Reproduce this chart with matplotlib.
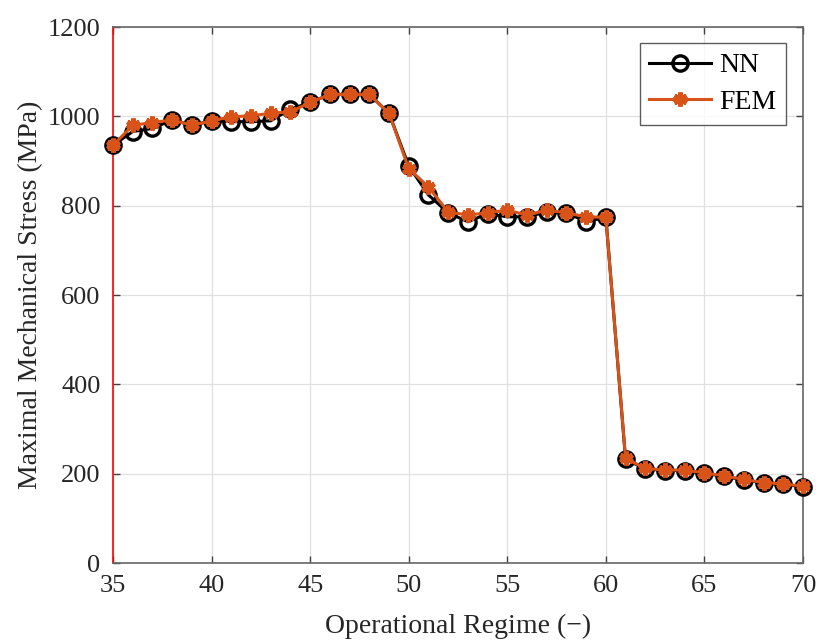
import matplotlib
matplotlib.use("Agg")
import matplotlib.pyplot as plt

regime = list(range(35, 71))
nn = [935, 966, 973, 992, 980, 990, 988, 988, 990, 1016, 1031, 1049, 1049, 1049, 1007,
      889, 824, 784, 764, 782, 775, 775, 786, 784, 764, 774,
      232, 211, 207, 207, 201, 194, 186, 179, 176, 171]
fem = [935, 980, 986, 992, 980, 990, 999, 1001, 1007, 1010, 1031, 1049, 1049, 1049, 1007,
       883, 842, 786, 779, 784, 790, 779, 790, 784, 775, 774,
       234, 212, 208, 208, 202, 195, 187, 180, 177, 172]
xticks = [35, 40, 45, 50, 55, 60, 65, 70]
yticks = [0, 200, 400, 600, 800, 1000, 1200]

plt.rcParams['font.family'] = ['Liberation Serif', 'DejaVu Serif']
fig = plt.figure(figsize=(8.19, 6.40), dpi=100)
ax = fig.add_axes([113/819, 1-563/640, (803-113)/819, (563-27)/640])

ax.plot(regime, nn, color='black', lw=2.2, marker='o', ms=11, mfc='none', mec='black', mew=2.4,
        label='NN', zorder=3, clip_on=False)
ax.plot(regime, fem, color='#D95319', lw=2.2, marker=(6, 2, 0), ms=10, mec='#D95319', mew=3.5,
        label='FEM', zorder=4, clip_on=False)

ax.set_xlim(35, 70)
ax.set_ylim(0, 1200)
ax.set_xticks(xticks)
ax.set_yticks(yticks)
ax.grid(True, color='#e0e0e0', lw=0.9)
ax.set_axisbelow(True)
ax.tick_params(direction='in', length=5, width=1, colors='#404040', labelcolor='#262626', labelsize=19,
               top=True, right=True, pad=9)
for s in ['top', 'right', 'bottom']:
    ax.spines[s].set_color('#666666')
    ax.spines[s].set_linewidth(1.2)
ax.spines['left'].set_color('red')
ax.spines['left'].set_linewidth(1.2)

ax.set_xlabel('Operational Regime (\u2212)', fontsize=20, color='#262626', labelpad=12)
ax.set_ylabel('Maximal Mechanical Stress (MPa)', fontsize=20, color='#262626', labelpad=3)

leg = ax.legend(loc='upper right', fontsize=20, frameon=True, fancybox=False, edgecolor='#333333',
                handlelength=2.2, borderpad=0.35, labelspacing=0.4, handletextpad=0.3,
                borderaxespad=0, bbox_to_anchor=(0.975, 0.97))
leg.get_frame().set_linewidth(1.0)

fig.savefig('out.png', dpi=100, facecolor='white')
